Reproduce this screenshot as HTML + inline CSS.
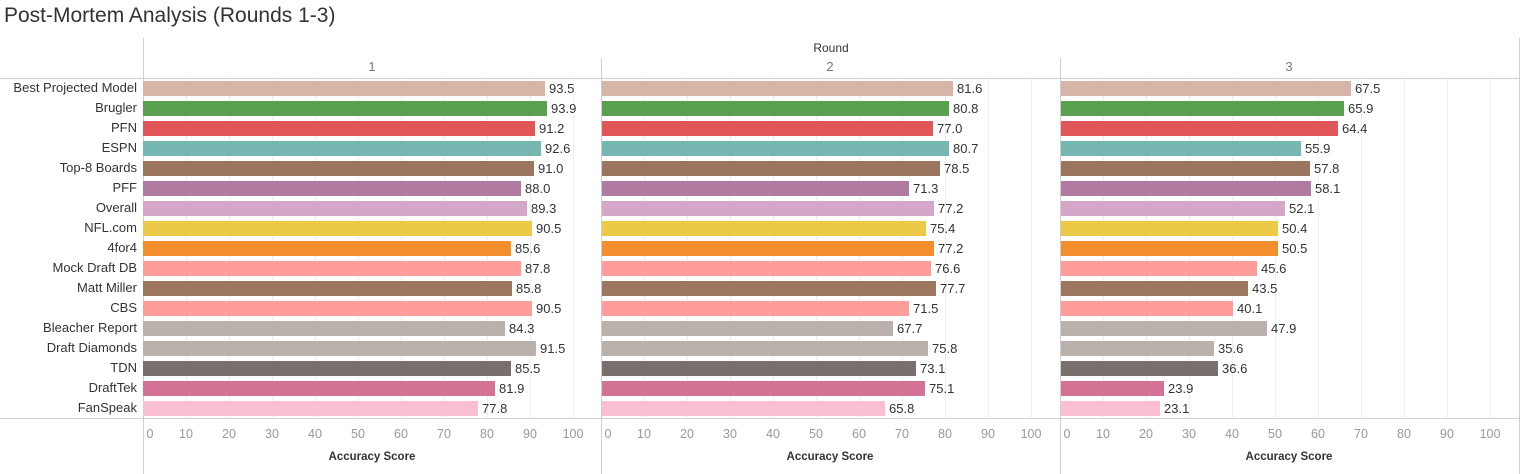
<!DOCTYPE html>
<html><head><meta charset="utf-8"><style>
body{margin:0;width:1526px;height:474px;background:#fff;font-family:"Liberation Sans",sans-serif;position:relative;overflow:hidden}
.a{position:absolute}
.t{left:4px;top:4px;font-size:21px;color:#333}
.lbl{right:1389px;width:143px;text-align:right;font-size:13px;color:#333;line-height:20px}
.panel{position:absolute;top:81px}
.row{height:20px;display:flex;align-items:flex-start}
.bar{height:15px}
.row span{font-size:13px;color:#333;margin-left:4px;line-height:15px}
.vl{position:absolute;width:1px;background:#d0d0d0}
.hl{position:absolute;height:1px;background:#d0d0d0}
.g{position:absolute;width:1px;background:#eeeeee;top:79px;height:339px}
.tick{position:absolute;top:427px;font-size:12.5px;color:#999;width:30px;text-align:center;margin-left:-15px}
.ax{position:absolute;top:451px;font-size:11.5px;color:#333;font-weight:bold;width:458px;text-align:center}
.hd{position:absolute;top:59px;font-size:13px;color:#777;width:458px;text-align:center}
</style></head><body>
<div class="a t">Post-Mortem Analysis (Rounds 1-3)</div>
<div class="a" style="left:143px;width:1376px;top:41px;text-align:center;font-size:12px;color:#333">Round</div>
<div class="hd" style="left:143px">1</div><div class="hd" style="left:601px">2</div><div class="hd" style="left:1060px">3</div>

<div class="g" style="left:186px"></div><div class="g" style="left:229px"></div><div class="g" style="left:272px"></div><div class="g" style="left:315px"></div><div class="g" style="left:358px"></div><div class="g" style="left:401px"></div><div class="g" style="left:444px"></div><div class="g" style="left:487px"></div><div class="g" style="left:530px"></div><div class="g" style="left:573px"></div>
<div class="g" style="left:644px"></div><div class="g" style="left:687px"></div><div class="g" style="left:730px"></div><div class="g" style="left:773px"></div><div class="g" style="left:816px"></div><div class="g" style="left:859px"></div><div class="g" style="left:902px"></div><div class="g" style="left:945px"></div><div class="g" style="left:988px"></div><div class="g" style="left:1031px"></div>
<div class="g" style="left:1103px"></div><div class="g" style="left:1146px"></div><div class="g" style="left:1189px"></div><div class="g" style="left:1232px"></div><div class="g" style="left:1275px"></div><div class="g" style="left:1318px"></div><div class="g" style="left:1361px"></div><div class="g" style="left:1404px"></div><div class="g" style="left:1447px"></div><div class="g" style="left:1490px"></div>

<div class="vl" style="left:143px;top:38px;height:436px"></div>
<div class="vl" style="left:601px;top:58px;height:416px"></div>
<div class="vl" style="left:1060px;top:58px;height:416px"></div>
<div class="vl" style="left:1519px;top:38px;height:436px"></div>
<div class="hl" style="left:0;width:1520px;top:78px"></div>
<div class="hl" style="left:0;width:1520px;top:418px"></div>

<div class="a lbl" style="top:78px">Best Projected Model<br>Brugler<br>PFN<br>ESPN<br>Top-8 Boards<br>PFF<br>Overall<br>NFL.com<br>4for4<br>Mock Draft DB<br>Matt Miller<br>CBS<br>Bleacher Report<br>Draft Diamonds<br>TDN<br>DraftTek<br>FanSpeak</div>

<div class="panel" style="left:143px">
<div class="row"><div class="bar" style="width:402px;background:#D7B5A6"></div><span>93.5</span></div>
<div class="row"><div class="bar" style="width:404px;background:#59A14F"></div><span>93.9</span></div>
<div class="row"><div class="bar" style="width:392px;background:#E15759"></div><span>91.2</span></div>
<div class="row"><div class="bar" style="width:398px;background:#76B7B2"></div><span>92.6</span></div>
<div class="row"><div class="bar" style="width:391px;background:#9C755F"></div><span>91.0</span></div>
<div class="row"><div class="bar" style="width:378px;background:#B07AA1"></div><span>88.0</span></div>
<div class="row"><div class="bar" style="width:384px;background:#D4A6C8"></div><span>89.3</span></div>
<div class="row"><div class="bar" style="width:389px;background:#EDC948"></div><span>90.5</span></div>
<div class="row"><div class="bar" style="width:368px;background:#F28E2B"></div><span>85.6</span></div>
<div class="row"><div class="bar" style="width:378px;background:#FF9D9A"></div><span>87.8</span></div>
<div class="row"><div class="bar" style="width:369px;background:#9D7660"></div><span>85.8</span></div>
<div class="row"><div class="bar" style="width:389px;background:#FF9D9A"></div><span>90.5</span></div>
<div class="row"><div class="bar" style="width:362px;background:#BAB0AC"></div><span>84.3</span></div>
<div class="row"><div class="bar" style="width:393px;background:#BAB0AC"></div><span>91.5</span></div>
<div class="row"><div class="bar" style="width:368px;background:#79706E"></div><span>85.5</span></div>
<div class="row"><div class="bar" style="width:352px;background:#D37295"></div><span>81.9</span></div>
<div class="row"><div class="bar" style="width:335px;background:#FABFD2"></div><span>77.8</span></div>
</div>

<div class="panel" style="left:602px">
<div class="row"><div class="bar" style="width:351px;background:#D7B5A6"></div><span>81.6</span></div>
<div class="row"><div class="bar" style="width:347px;background:#59A14F"></div><span>80.8</span></div>
<div class="row"><div class="bar" style="width:331px;background:#E15759"></div><span>77.0</span></div>
<div class="row"><div class="bar" style="width:347px;background:#76B7B2"></div><span>80.7</span></div>
<div class="row"><div class="bar" style="width:338px;background:#9C755F"></div><span>78.5</span></div>
<div class="row"><div class="bar" style="width:307px;background:#B07AA1"></div><span>71.3</span></div>
<div class="row"><div class="bar" style="width:332px;background:#D4A6C8"></div><span>77.2</span></div>
<div class="row"><div class="bar" style="width:324px;background:#EDC948"></div><span>75.4</span></div>
<div class="row"><div class="bar" style="width:332px;background:#F28E2B"></div><span>77.2</span></div>
<div class="row"><div class="bar" style="width:329px;background:#FF9D9A"></div><span>76.6</span></div>
<div class="row"><div class="bar" style="width:334px;background:#9D7660"></div><span>77.7</span></div>
<div class="row"><div class="bar" style="width:307px;background:#FF9D9A"></div><span>71.5</span></div>
<div class="row"><div class="bar" style="width:291px;background:#BAB0AC"></div><span>67.7</span></div>
<div class="row"><div class="bar" style="width:326px;background:#BAB0AC"></div><span>75.8</span></div>
<div class="row"><div class="bar" style="width:314px;background:#79706E"></div><span>73.1</span></div>
<div class="row"><div class="bar" style="width:323px;background:#D37295"></div><span>75.1</span></div>
<div class="row"><div class="bar" style="width:283px;background:#FABFD2"></div><span>65.8</span></div>
</div>

<div class="panel" style="left:1061px">
<div class="row"><div class="bar" style="width:290px;background:#D7B5A6"></div><span>67.5</span></div>
<div class="row"><div class="bar" style="width:283px;background:#59A14F"></div><span>65.9</span></div>
<div class="row"><div class="bar" style="width:277px;background:#E15759"></div><span>64.4</span></div>
<div class="row"><div class="bar" style="width:240px;background:#76B7B2"></div><span>55.9</span></div>
<div class="row"><div class="bar" style="width:249px;background:#9C755F"></div><span>57.8</span></div>
<div class="row"><div class="bar" style="width:250px;background:#B07AA1"></div><span>58.1</span></div>
<div class="row"><div class="bar" style="width:224px;background:#D4A6C8"></div><span>52.1</span></div>
<div class="row"><div class="bar" style="width:217px;background:#EDC948"></div><span>50.4</span></div>
<div class="row"><div class="bar" style="width:217px;background:#F28E2B"></div><span>50.5</span></div>
<div class="row"><div class="bar" style="width:196px;background:#FF9D9A"></div><span>45.6</span></div>
<div class="row"><div class="bar" style="width:187px;background:#9D7660"></div><span>43.5</span></div>
<div class="row"><div class="bar" style="width:172px;background:#FF9D9A"></div><span>40.1</span></div>
<div class="row"><div class="bar" style="width:206px;background:#BAB0AC"></div><span>47.9</span></div>
<div class="row"><div class="bar" style="width:153px;background:#BAB0AC"></div><span>35.6</span></div>
<div class="row"><div class="bar" style="width:157px;background:#79706E"></div><span>36.6</span></div>
<div class="row"><div class="bar" style="width:103px;background:#D37295"></div><span>23.9</span></div>
<div class="row"><div class="bar" style="width:99px;background:#FABFD2"></div><span>23.1</span></div>
</div>

<div class="tick" style="left:150px">0</div><div class="tick" style="left:186px">10</div><div class="tick" style="left:229px">20</div><div class="tick" style="left:272px">30</div><div class="tick" style="left:315px">40</div><div class="tick" style="left:358px">50</div><div class="tick" style="left:401px">60</div><div class="tick" style="left:444px">70</div><div class="tick" style="left:487px">80</div><div class="tick" style="left:530px">90</div><div class="tick" style="left:573px">100</div>
<div class="tick" style="left:608px">0</div><div class="tick" style="left:644px">10</div><div class="tick" style="left:687px">20</div><div class="tick" style="left:730px">30</div><div class="tick" style="left:773px">40</div><div class="tick" style="left:816px">50</div><div class="tick" style="left:859px">60</div><div class="tick" style="left:902px">70</div><div class="tick" style="left:945px">80</div><div class="tick" style="left:988px">90</div><div class="tick" style="left:1031px">100</div>
<div class="tick" style="left:1067px">0</div><div class="tick" style="left:1103px">10</div><div class="tick" style="left:1146px">20</div><div class="tick" style="left:1189px">30</div><div class="tick" style="left:1232px">40</div><div class="tick" style="left:1275px">50</div><div class="tick" style="left:1318px">60</div><div class="tick" style="left:1361px">70</div><div class="tick" style="left:1404px">80</div><div class="tick" style="left:1447px">90</div><div class="tick" style="left:1490px">100</div>

<div class="ax" style="left:143px">Accuracy Score</div>
<div class="ax" style="left:601px">Accuracy Score</div>
<div class="ax" style="left:1060px">Accuracy Score</div>
</body></html>
